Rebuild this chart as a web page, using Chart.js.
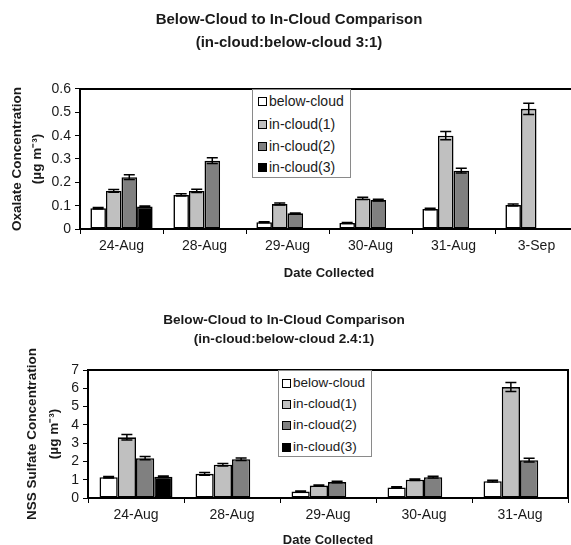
<!DOCTYPE html>
<html>
<head>
<meta charset="utf-8">
<script src="https://cdn.jsdelivr.net/npm/chart.js@4/dist/chart.umd.min.js"></script>
<style>
  html, body { margin: 0; padding: 0; background: #fff; }
  body { position: relative; width: 571px; height: 545px; overflow: hidden; }
  canvas { position: absolute; left: 0; }
  #oxalate { top: 0; }
  #sulfate { top: 290px; }
  .legend { position: absolute; border: 1px solid #8a8a8a; background: #fff; box-sizing: border-box;
            font-family: 'Liberation Sans', Arial, sans-serif; color: #1a1a1a; }
  .legend .row { position: absolute; height: 18px; line-height: 18px; white-space: nowrap; display: flex; align-items: center; }
  .legend .sw { width: 7px; height: 7px; border: 1.5px solid #000; margin-right: 2px; flex: none; }
</style>
</head>
<body>
<canvas id="oxalate" width="592" height="290"></canvas>
<canvas id="sulfate" width="585" height="260"></canvas>
<div id="oxLegend" class="legend" style="left:252px;top:89px;width:99px;height:89px;font-size:14px"></div>
<div id="suLegend" class="legend" style="left:278px;top:370px;width:94px;height:87px;font-size:13.5px"></div>
<script>
// ---- data ----
const seriesNames = ['below-cloud', 'in-cloud(1)', 'in-cloud(2)', 'in-cloud(3)'];

// Oxalate (µg m-3)
const oxDates   = ['24-Aug', '28-Aug', '29-Aug', '30-Aug', '31-Aug', '3-Sep'];
const oxBelow   = [0.089, 0.146, 0.029, 0.026, 0.086, 0.103];
const oxIn1     = [0.163, 0.163, 0.107, 0.131, 0.400, 0.515];
const oxIn2     = [0.222, 0.293, 0.067, 0.124, 0.250, null];
const oxIn3     = [0.096, null, null, null, null, null];
const oxBelowErr = [0.003, 0.005, 0.002, 0.002, 0.003, 0.004];
const oxIn1Err   = [0.006, 0.007, 0.004, 0.005, 0.018, 0.024];
const oxIn2Err   = [0.010, 0.012, 0.002, 0.004, 0.010, null];
const oxIn3Err   = [0.003, null, null, null, null, null];
const oxYTicks  = ['0', '0.1', '0.2', '0.3', '0.4', '0.5', '0.6'];

// NSS sulfate (µg m-3)
const suDates   = ['24-Aug', '28-Aug', '29-Aug', '30-Aug', '31-Aug'];
const suBelow   = [1.14, 1.32, 0.35, 0.58, 0.92];
const suIn1     = [3.32, 1.82, 0.68, 1.00, 6.07];
const suIn2     = [2.18, 2.12, 0.87, 1.14, 2.07];
const suIn3     = [1.16, null, null, null, null];
const suBelowErr = [0.04, 0.07, 0.03, 0.03, 0.05];
const suIn1Err   = [0.15, 0.07, 0.03, 0.04, 0.25];
const suIn2Err   = [0.09, 0.07, 0.04, 0.05, 0.10];
const suIn3Err   = [0.04, null, null, null, null];
const suYTicks  = ['0', '1', '2', '3', '4', '5', '6', '7'];

// ---- styling ----
const FONT = "'Liberation Sans', Arial, sans-serif";
const INK = '#1a1a1a';
const seriesColors = ['#ffffff', '#c0c0c0', '#808080', '#000000'];

// Error bars drawn from each bar's value through the y scale
const errorBars = {
  id: 'errorBars',
  afterDatasetsDraw(chart) {
    const ctx = chart.ctx, y = chart.scales.y;
    ctx.save();
    ctx.strokeStyle = '#000';
    ctx.lineWidth = 1.5;
    chart.data.datasets.forEach((ds, di) => {
      const meta = chart.getDatasetMeta(di);
      meta.data.forEach((bar, i) => {
        const v = ds.data[i], e = ds.errors[i];
        if (v == null || e == null) return;
        const yt = y.getPixelForValue(v + e), yb = y.getPixelForValue(v - e);
        const half = 5.5;
        ctx.beginPath();
        ctx.moveTo(bar.x, yt); ctx.lineTo(bar.x, yb);
        ctx.moveTo(bar.x - half, yt); ctx.lineTo(bar.x + half, yt);
        ctx.moveTo(bar.x - half, yb); ctx.lineTo(bar.x + half, yb);
        ctx.stroke();
      });
    });
    ctx.restore();
  }
};

// Top and right edges of the plot box
const plotFrame = {
  id: 'plotFrame',
  afterDraw(chart) {
    const { ctx, chartArea: a } = chart;
    ctx.save();
    ctx.strokeStyle = '#000';
    ctx.lineWidth = 2;
    ctx.beginPath();
    ctx.moveTo(a.left, a.top); ctx.lineTo(a.right, a.top); ctx.lineTo(a.right, a.bottom);
    ctx.stroke();
    ctx.restore();
  }
};

function buildChart(id, o) {
  return new Chart(document.getElementById(id), {
    type: 'bar',
    data: {
      labels: o.labels,
      datasets: o.series.map((vals, i) => ({
        label: seriesNames[i],
        data: vals,
        errors: o.errors[i],
        backgroundColor: seriesColors[i],
        borderColor: '#000',
        borderWidth: 1.6,
        borderSkipped: false,
        categoryPercentage: o.catPct,
        barPercentage: 1
      }))
    },
    options: {
      responsive: false,
      animation: false,
      devicePixelRatio: 1,
      layout: { padding: { left: 0, top: 0, bottom: 0, right: o.padRight } },
      plugins: {
        legend: { display: false },
        tooltip: { enabled: false },
        title: {
          display: true,
          text: o.title,
          color: INK,
          font: { family: FONT, size: o.titleSize, weight: 'bold', lineHeight: o.titleLH },
          padding: { top: o.titlePadTop, bottom: o.titlePadBottom }
        }
      },
      scales: {
        x: {
          grid: { offset: true, drawOnChartArea: false, drawTicks: true, tickLength: 5, color: '#000', lineWidth: 1 },
          border: { color: '#000', width: 2 },
          ticks: { color: INK, font: { family: FONT, size: 14 }, padding: 4, maxRotation: 0, autoSkip: false },
          title: {
            display: true, text: 'Date Collected', color: INK,
            font: { family: FONT, size: 13, weight: 'bold', lineHeight: 1.2 },
            padding: { top: 0, bottom: o.xTitlePadBottom }
          },
          afterFit: s => { s.height = o.xHeight; }
        },
        y: {
          min: parseFloat(o.yTicks[0]),
          max: parseFloat(o.yTicks[o.yTicks.length - 1]),
          afterBuildTicks: s => { s.ticks = o.yTicks.map(t => ({ value: parseFloat(t) })); },
          grid: { drawOnChartArea: false, drawTicks: true, tickLength: 5, color: '#000', lineWidth: 1 },
          border: { color: '#000', width: 2 },
          ticks: {
            color: INK, font: { family: FONT, size: 14 }, padding: 4, autoSkip: false,
            callback: (v, i) => o.yTicks[i]
          },
          title: {
            display: true, text: o.yTitle, color: INK,
            font: { family: FONT, size: 13.5, weight: 'bold', lineHeight: o.yTitleLH },
            padding: { top: o.yTitlePadTop, bottom: 0 }
          },
          afterFit: s => { s.width = o.yWidth; }
        }
      }
    },
    plugins: [errorBars, plotFrame]
  });
}

function buildLegend(el, chart, rowCenters, swLeft) {
  chart.data.datasets.forEach((ds, i) => {
    const row = document.createElement('div');
    row.className = 'row';
    row.style.left = swLeft + 'px';
    row.style.top = (rowCenters[i] - 9) + 'px';
    const sw = document.createElement('span');
    sw.className = 'sw';
    sw.style.background = ds.backgroundColor;
    const tx = document.createElement('span');
    tx.textContent = ds.label;
    row.appendChild(sw); row.appendChild(tx);
    el.appendChild(row);
  });
}

const oxChart = buildChart('oxalate', {
  labels: oxDates,
  series: [oxBelow, oxIn1, oxIn2, oxIn3],
  errors: [oxBelowErr, oxIn1Err, oxIn2Err, oxIn3Err],
  yTicks: oxYTicks,
  catPct: 0.75,
  padRight: 14,
  title: ['Below-Cloud to In-Cloud Comparison', '(in-cloud:below-cloud 3:1)'],
  titleSize: 15, titleLH: 1.513, titlePadTop: 8.65, titlePadBottom: 34.95,
  yTitle: ['Oxalate Concentration', '(\u00b5g m\u207b\u00b3)'],
  yTitleLH: 1.48, yTitlePadTop: 7,
  yWidth: 80,
  xHeight: 61, xTitlePadBottom: 9.2
});

const suChart = buildChart('sulfate', {
  labels: suDates,
  series: [suBelow, suIn1, suIn2, suIn3],
  errors: [suBelowErr, suIn1Err, suIn2Err, suIn3Err],
  yTicks: suYTicks,
  catPct: 0.76,
  padRight: 17,
  title: ['Below-Cloud to In-Cloud Comparison', '(in-cloud:below-cloud 2.4:1)'],
  titleSize: 13.6, titleLH: 1.42, titlePadTop: 20.35, titlePadBottom: 21.05,
  yTitle: ['NSS Sulfate Concentration', '(\u00b5g m\u207b\u00b3)'],
  yTitleLH: 1.63, yTitlePadTop: 21,
  yWidth: 88,
  xHeight: 52, xTitlePadBottom: 2.2
});

buildLegend(document.getElementById('oxLegend'), oxChart, [11, 34, 56, 77], 5);
buildLegend(document.getElementById('suLegend'), suChart, [12, 33, 54, 76], 3);
</script>
</body>
</html>
